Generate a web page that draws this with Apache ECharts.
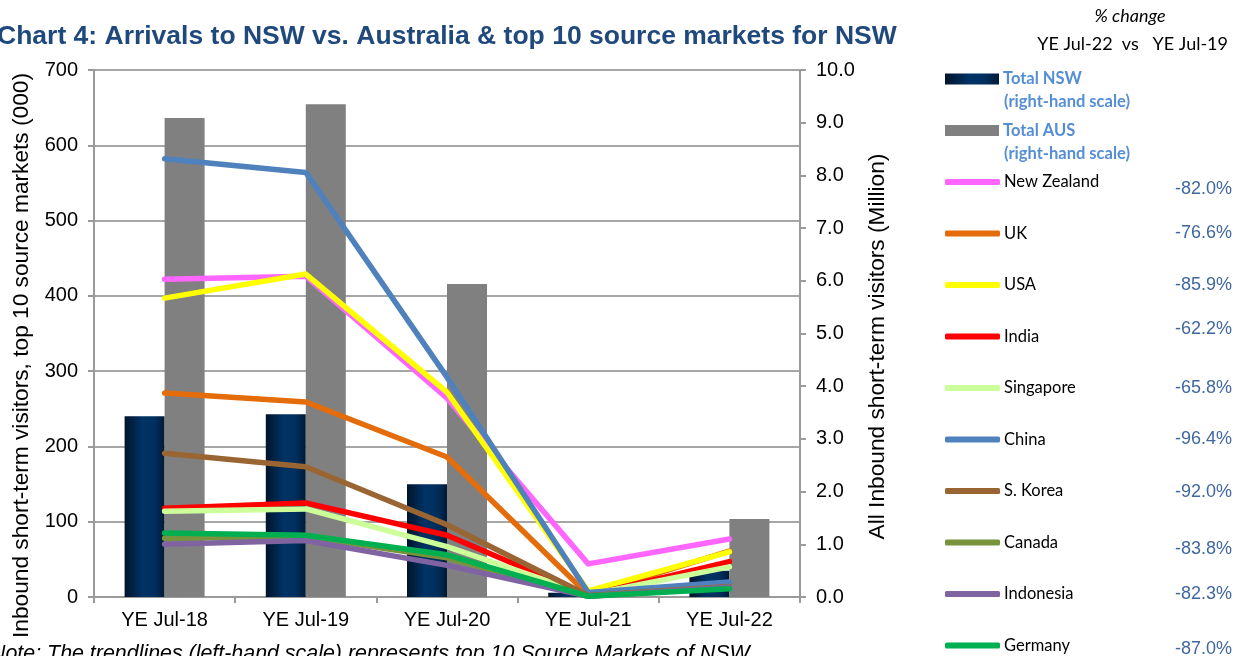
<!DOCTYPE html>
<html>
<head>
<meta charset="utf-8">
<script src="https://cdn.jsdelivr.net/npm/echarts@6/dist/echarts.min.js"></script>
<style>
html,body{margin:0;padding:0;background:#fff;}
#chart{width:1233px;height:656px;}
</style>
</head>
<body>
<div id="chart"></div>
<script>
// ---- data ----
var categories = ['YE Jul-18', 'YE Jul-19', 'YE Jul-20', 'YE Jul-21', 'YE Jul-22'];
// right-hand scale, million
var totalNSW = [3.43, 3.47, 2.14, 0.08, 0.50];
var totalAUS = [9.09, 9.35, 5.94, 0.12, 1.48];
// left-hand scale, thousands
var newZealand = [422, 426, 264, 44, 77];
var uk         = [271, 259, 186, 3, 61];
var usa        = [397, 429, 272, 8, 60];
var india      = [118, 125, 82, 2, 47];
var singapore  = [114, 117, 67, 3, 40];
var china      = [582, 564, 292, 6, 20];
var sKorea     = [191, 173, 96, 2, 14];
var canada     = [78, 80, 52, 1, 13];
var indonesia  = [70, 75, 42, 1, 13];
var germany    = [85, 82, 56, 1, 11];
var marketNames = ['New Zealand', 'UK', 'USA', 'India', 'Singapore', 'China', 'S. Korea', 'Canada', 'Indonesia', 'Germany'];
var pctChange = ['-82.0%', '-76.6%', '-85.9%', '-62.2%', '-65.8%', '-96.4%', '-92.0%', '-83.8%', '-82.3%', '-87.0%'];
var leftTicks = { min: 0, max: 700, interval: 100 };
var rightTicks = { min: 0, max: 10, interval: 1 };

// ---- styling ----
var marketData = [newZealand, uk, usa, india, singapore, china, sKorea, canada, indonesia, germany];
var marketColors = ['#FF66FF', '#E46C0A', '#FFFF00', '#FF0000', '#CCFF99', '#4F81BD', '#996633', '#77933C', '#8064A2', '#00B050'];
var pctOffset = [7, 0, 0, -7, 0, 0, 1, 7, 0, 4];
var nswGradient = new echarts.graphic.LinearGradient(0, 0, 1, 0, [
  { offset: 0, color: '#00142a' },
  { offset: 0.45, color: '#003366' },
  { offset: 0.75, color: '#002f5e' },
  { offset: 1, color: '#001a36' }
]);

var series = [
  { name: 'Total NSW', type: 'bar', yAxisIndex: 1, data: totalNSW, barWidth: 40, barGap: '0%',
    itemStyle: { color: nswGradient } },
  { name: 'Total AUS', type: 'bar', yAxisIndex: 1, data: totalAUS, barWidth: 40,
    itemStyle: { color: '#808080' } }
];
marketNames.forEach(function (n, i) {
  series.push({
    name: n, type: 'line', yAxisIndex: 0, data: marketData[i], symbol: 'none',
    lineStyle: { color: marketColors[i], width: 5.5, cap: 'round', join: 'round' },
    itemStyle: { color: marketColors[i] }
  });
});

var legendY0 = 79, legendStep = 51.5;
var legends = [];
var allNames = ['Total NSW', 'Total AUS'].concat(marketNames);
allNames.forEach(function (n, i) {
  var cy = legendY0 + i * legendStep;
  var isBar = i < 2;
  legends.push({
    data: [n], left: 945, top: cy - 10, padding: 0,
    itemWidth: isBar ? 54 : 55, itemHeight: isBar ? 11 : 6,
    icon: isBar ? 'rect' : 'roundRect',
    itemGap: 0,
    selectedMode: false,
    textStyle: isBar
      ? { fontFamily: 'Lato', fontSize: 16.5, fontWeight: 'bold', color: '#558ED5', lineHeight: 20, padding: [0, 0, 0, -1] }
      : { fontFamily: 'Lato', fontSize: 16.5, color: '#000', lineHeight: 20, padding: [0, 0, 0, -1] }
  });
});

var graphics = [
  { type: 'text', style: { text: '% change', x: 1130, y: 16, align: 'center', verticalAlign: 'middle',
      font: 'italic 18px Lato', fill: '#000' } },
  { type: 'text', style: { text: 'YE Jul-22  vs   YE Jul-19', x: 1228, y: 44, align: 'right', verticalAlign: 'middle',
      font: '18px Lato', fill: '#000' } },
  { type: 'text', style: { text: '(right-hand scale)', x: 1004, y: 102, align: 'left', verticalAlign: 'middle',
      font: 'bold 16.5px Lato', fill: '#558ED5' } },
  { type: 'text', style: { text: '(right-hand scale)', x: 1004, y: 154, align: 'left', verticalAlign: 'middle',
      font: 'bold 16.5px Lato', fill: '#558ED5' } },
  { type: 'text', style: { text: 'Note: The trendlines (left-hand scale) represents top 10 Source Markets of NSW', x: -10, y: 644,
      align: 'left', verticalAlign: 'top', font: 'italic 21.4px "Liberation Sans"', fill: '#000' } }
];
pctChange.forEach(function (p, i) {
  graphics.push({ type: 'text', style: { text: p, x: 1232, y: legendY0 + (i + 2) * legendStep + pctOffset[i],
    align: 'right', verticalAlign: 'middle', font: '18px "Liberation Sans"', fill: '#3F68A0' } });
});

var axisFont = { fontFamily: 'Liberation Sans', fontSize: 20, color: '#000' };
var option = {
  animation: false,
  backgroundColor: '#fff',
  title: {
    text: 'Chart 4: Arrivals to NSW vs. Australia & top 10 source markets for NSW',
    left: -3, top: 23, padding: 0,
    textStyle: { fontFamily: 'Liberation Sans', fontSize: 26.5, fontWeight: 'bold', color: '#1F497D' }
  },
  legend: legends,
  grid: { left: 94, right: 433, top: 70, bottom: 59, containLabel: false },
  xAxis: {
    type: 'category', data: categories, boundaryGap: true,
    axisLine: { lineStyle: { color: '#9a9a9a', width: 2 } },
    axisTick: { show: true, length: 6, lineStyle: { color: '#9a9a9a', width: 2 } },
    axisLabel: Object.assign({ margin: 13 }, axisFont)
  },
  yAxis: [
    {
      type: 'value', position: 'left', min: leftTicks.min, max: leftTicks.max, interval: leftTicks.interval,
      name: 'Inbound short-term visitors, top 10 source markets (000)', nameLocation: 'middle', nameGap: 57,
      nameTextStyle: { fontFamily: 'Liberation Sans', fontSize: 22.7, color: '#000', padding: [0, 44, 0, 0] },
      axisLine: { show: true, lineStyle: { color: '#9a9a9a', width: 2 } },
      axisTick: { show: true, length: 6, lineStyle: { color: '#9a9a9a', width: 2 } },
      axisLabel: Object.assign({ margin: 16 }, axisFont),
      splitLine: { show: true, lineStyle: { color: '#a6a6a6', width: 2 } }
    },
    {
      type: 'value', position: 'right', min: rightTicks.min, max: rightTicks.max, interval: rightTicks.interval,
      name: 'All Inbound short-term visitors (Million)', nameLocation: 'middle', nameGap: 49,
      nameTextStyle: { fontFamily: 'Liberation Sans', fontSize: 22.7, color: '#000', padding: [0, 26, 0, 0] },
      axisLine: { show: true, lineStyle: { color: '#9a9a9a', width: 2 } },
      axisTick: { show: true, length: 6, lineStyle: { color: '#9a9a9a', width: 2 } },
      axisLabel: Object.assign({ margin: 16, formatter: function (v) { return v.toFixed(1); } }, axisFont),
      splitLine: { show: false }
    }
  ],
  graphic: graphics,
  series: series
};
var chart = echarts.init(document.getElementById('chart'), null, { renderer: 'canvas' });
chart.setOption(option);
</script>
</body>
</html>
